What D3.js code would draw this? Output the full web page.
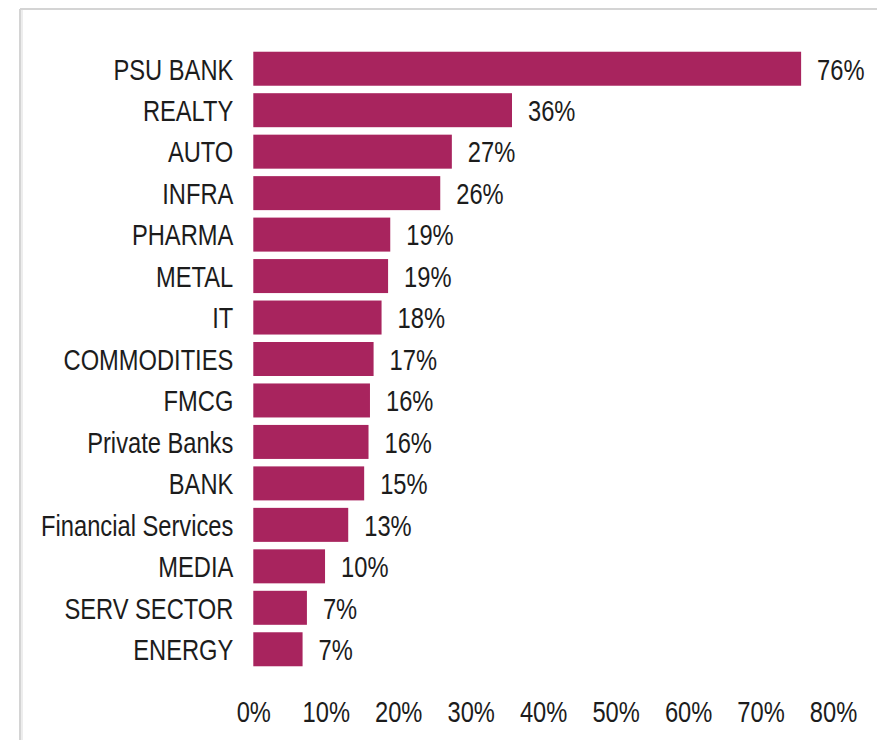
<!DOCTYPE html>
<html>
<head>
<meta charset="utf-8">
<script src="https://cdn.jsdelivr.net/npm/d3@7"></script>
<style>
  html, body { margin: 0; padding: 0; background: #ffffff; }
  svg { display: block; }
  text { font-family: "Liberation Sans", Arial, sans-serif; fill: #1c1c1c; }
</style>
</head>
<body>
<svg id="chart" width="877" height="740"></svg>
<script>
// Sector returns (%), top to bottom
const sectors = [
  "PSU BANK", "REALTY", "AUTO", "INFRA", "PHARMA", "METAL", "IT",
  "COMMODITIES", "FMCG", "Private Banks", "BANK", "Financial Services",
  "MEDIA", "SERV SECTOR", "ENERGY"
];
const returns = [75.6, 35.7, 27.4, 25.8, 18.9, 18.6, 17.7, 16.6, 16.1, 15.9, 15.3, 13.1, 9.9, 7.4, 6.8];
const tickValues = [0, 10, 20, 30, 40, 50, 60, 70, 80];

const W = 877, H = 740;
const barColor = "#a8245e";
const fontSize = 30;
const squeeze = 0.79; // condensed look of the labels

const svg = d3.select("#chart");

// frame lines (top and left edge of the panel)
svg.append("line").attr("x1", 20).attr("x2", W).attr("y1", 9).attr("y2", 9)
  .attr("stroke", "#d4d4d4").attr("stroke-width", 2);
svg.append("line").attr("x1", 20).attr("x2", 20).attr("y1", 9).attr("y2", H)
  .attr("stroke", "#d4d4d4").attr("stroke-width", 2);
svg.append("line").attr("x1", 22).attr("x2", 22).attr("y1", 10).attr("y2", H)
  .attr("stroke", "#ededed").attr("stroke-width", 2);

const x = d3.scaleLinear().domain([0, 80]).range([253.3, 833]);
const y = d3.scaleBand().domain(sectors).range([48, 670]).paddingInner(0.18).paddingOuter(0.09);

const rows = sectors.map((s, i) => ({ name: s, value: returns[i] }));

// bars
svg.append("g").selectAll("rect").data(rows).join("rect")
  .attr("x", x(0))
  .attr("y", d => y(d.name))
  .attr("width", d => x(d.value) - x(0))
  .attr("height", y.bandwidth())
  .attr("fill", barColor);

// category labels
svg.append("g").selectAll("g").data(rows).join("g")
  .attr("transform", d => `translate(${x(0) - 20},${y(d.name) + y.bandwidth() / 2 + 10.8}) scale(${squeeze},1)`)
  .append("text")
  .attr("text-anchor", "end")
  .attr("font-size", fontSize)
  .text(d => d.name);

// value labels
svg.append("g").selectAll("g").data(rows).join("g")
  .attr("transform", d => `translate(${x(d.value) + 16},${y(d.name) + y.bandwidth() / 2 + 10.8}) scale(${squeeze},1)`)
  .append("text")
  .attr("text-anchor", "start")
  .attr("font-size", fontSize)
  .text(d => Math.round(d.value) + "%");

// x axis: tick labels only
const axis = d3.axisBottom(x).tickValues(tickValues).tickSize(0).tickPadding(0)
  .tickFormat(d => d + "%");
const ax = svg.append("g").attr("transform", "translate(0,722)").call(axis);
ax.select(".domain").remove();
ax.selectAll(".tick text")
  .attr("y", 0).attr("dy", 0)
  .attr("font-size", fontSize)
  .attr("font-family", null)
  .attr("fill", "#1c1c1c")
  .attr("transform", `scale(${squeeze},1)`);
</script>
</body>
</html>
